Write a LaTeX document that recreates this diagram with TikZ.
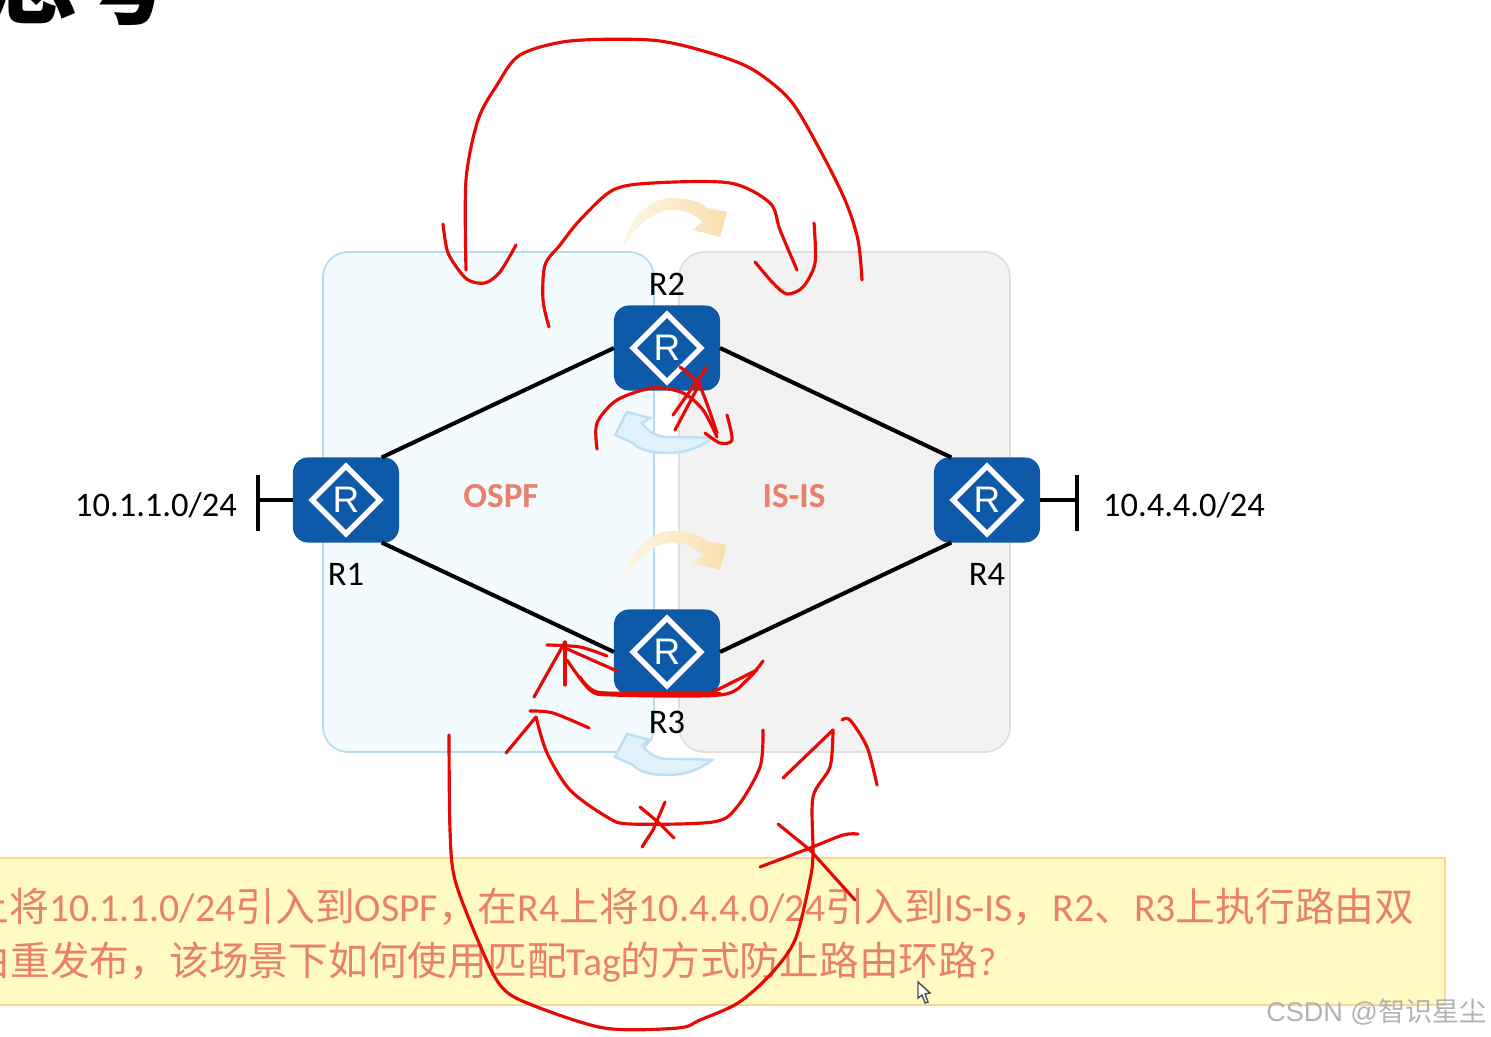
\documentclass[tikz,border=0pt]{standalone}
\usepackage{fontspec}
\setmainfont{Carlito}
\setsansfont{Liberation Sans}
\newfontfamily\cjk{Noto Sans CJK SC}
\usetikzlibrary{shapes.geometric}
\definecolor{routerblue}{HTML}{0F5AA8}
\definecolor{ospfback}{HTML}{F4FBFF}
\definecolor{ospfline}{HTML}{B5DDF0}
\definecolor{isisback}{HTML}{F2F2F2}
\definecolor{isisline}{HTML}{DEDEDE}
\definecolor{salmon}{HTML}{E8806A}
\definecolor{noteback}{HTML}{FFFAC4}
\definecolor{noteline}{HTML}{F7D88E}
\definecolor{redink}{HTML}{E60A05}
\definecolor{swapfade}{HTML}{FDF6E6}
\definecolor{swaptone}{HTML}{F9DFAE}
\definecolor{swapsky}{HTML}{E2F2FB}
\definecolor{swapedge}{HTML}{BCDFF5}
\tikzset{
  ospfzone/.style={fill=ospfback, draw=ospfline, line width=0.5pt, rounded corners=0.25cm},
  isiszone/.style={fill=isisback, draw=isisline, line width=0.5pt, rounded corners=0.25cm},
  router/.style={rectangle, fill=routerblue, rounded corners=0.15cm, minimum width=1.06cm, minimum height=0.85cm, inner sep=0, outer sep=0},
  routermark/.style={diamond, aspect=1, draw=white, line width=1.5pt, minimum width=0.70cm, minimum height=0.70cm, inner sep=0, text=white, font=\sffamily\fontsize{10.5}{12}\selectfont},
  routerlabel/.style={font=\fontsize{9.8}{11}\selectfont, inner sep=0},
  zonelabel/.style={font=\bfseries\fontsize{10}{11}\selectfont, text=salmon, inner sep=0},
  link/.style={line width=1.15pt, draw=black},
  stub/.style={line width=1.15pt, draw=black},
  notetext/.style={font=\fontsize{11.3}{13}\selectfont, text=salmon, inner sep=0},
  ink/.style={line width=0.9pt, draw=redink, line cap=round, line join=round},
  swaporange/.style={left color=swapfade, right color=swaptone, draw=none},
  swapblue/.style={fill=swapsky, draw=swapedge, line width=0.7pt},
  swapup/.pic={\path[swaporange] (622,250) .. controls (630,215) and (650,198) .. (673,198) .. controls (688,198) and (700,202) .. (707,208) -- (727,212) -- (720,237) -- (693,230) -- (702,222) .. controls (695,214) and (685,210) .. (673,210) .. controls (655,210) and (635,225) .. (622,250) -- cycle;},
  swapdown/.pic={\path[swapblue] (712,438) .. controls (697,450) and (680,453) .. (667,453) .. controls (650,453) and (638,449) .. (633,443) -- (615,435) -- (627,412) -- (650,418) -- (642,423) .. controls (648,432) and (658,437) .. (667,437) .. controls (680,437) and (697,437) .. (712,438) -- cycle;},
}
\begin{document}
\begin{tikzpicture}[x=0.01cm,y=-0.01cm]
\useasboundingbox (0,0) rectangle (1491,1037);
\node[font=\cjk\bfseries\fontsize{27}{27}\selectfont, anchor=south west, inner sep=0] (title) at (-18,26) {思考};
\draw[ospfzone] (323,252) rectangle (654,752);
\draw[isiszone] (679,252) rectangle (1010,752);
\pic at (0,0) {swapup};
\pic at (0,333) {swapup};
\pic at (0,0) {swapdown};
\pic at (0,322) {swapdown};
\node[router] (r1) at (346,500) {};
\node[router] (r2) at (667,348) {};
\node[router] (r3) at (667,652) {};
\node[router] (r4) at (987,500) {};
\node[routermark] (m1) at (r1) {R};
\node[routermark] (m2) at (r2) {R};
\node[routermark] (m3) at (r3) {R};
\node[routermark] (m4) at (r4) {R};
\draw[link] (r1.50) -- (r2.west);
\draw[link] (r1.-50) -- (r3.west);
\draw[link] (r4.130) -- (r2.east);
\draw[link] (r4.-130) -- (r3.east);
\coordinate (barl) at (258,500);
\coordinate (barr) at (1077,500);
\draw[stub] (r1.west) -- (barl);
\draw[stub] (258,475) -- (258,531);
\draw[stub] (r4.east) -- (barr);
\draw[stub] (1077,475) -- (1077,531);
\node[routerlabel] (l1) at (346,574) {R1};
\node[routerlabel] (l2) at (667,284) {R2};
\node[routerlabel] (l3) at (667,722) {R3};
\node[routerlabel] (l4) at (987,574) {R4};
\node[routerlabel] (netl) at (156,505) {10.1.1.0/24};
\node[routerlabel] (netr) at (1184,505) {10.4.4.0/24};
\node[zonelabel] (ospf) at (501,496) {OSPF};
\node[zonelabel] (isis) at (794,496) {IS-IS};
\draw[fill=noteback, draw=noteline, line width=0.5pt] (-10,858) rectangle (1445,1005);
\node[notetext, anchor=base east] (line1) at (1415,921) {{\cjk 上将}10.1.1.0/24{\cjk 引入到}OSPF{\cjk ，在}R4{\cjk 上将}10.4.4.0/24{\cjk 引入到}IS-IS{\cjk ，}R2{\cjk 、}R3{\cjk 上执行路由双}};
\node[notetext, anchor=base west] (line2) at (-30,975) {{\cjk 由重发布，该场景下如何使用匹配}Tag{\cjk 的方式防止路由环路}?};
\node[font=\sffamily\fontsize{7.7}{9}\selectfont, text=black!30, anchor=base east, inner sep=0] (mark) at (1487,1021) {CSDN @{\cjk 智识星尘}};
\draw[fill=white, draw=black!70, line width=0.4pt] (918,982) -- (918,998) -- (922,995) -- (925,1003) -- (928,1002) -- (925,994) -- (930,993) -- cycle;
\draw[ink] plot[smooth] coordinates {(443,224) (447,250) (455,265) (468,280) (485,283) (500,272) (516,245)};
\draw[ink] plot[smooth] coordinates {(466,270) (466,180) (478,120) (497,85) (520,55) (570,41) (650,40) (700,50) (750,68) (790,100) (820,150) (845,200) (858,240) (862,280)};
\draw[ink] plot[smooth] coordinates {(549,327) (543,300) (545,265) (560,245) (580,220) (613,190) (653,183) (730,183) (770,203) (780,230) (797,270)};
\draw[ink] plot[smooth] coordinates {(755,262) (773,283) (787,294) (803,287) (815,263) (814,223)};
\draw[ink] plot[smooth] coordinates {(597,449) (597,423) (617,400) (653,388) (683,393) (703,410) (717,437)};
\draw[ink] plot[smooth] coordinates {(705,433) (720,443) (732,440) (727,415)};
\draw[ink] plot[smooth] coordinates {(680,367) (700,387) (717,433)};
\draw[ink] (707,367) -- (673,415);
\draw[ink] (700,383) -- (675,430);
\draw[ink] (617,671) -- (565,648);
\draw[ink] plot[smooth] coordinates {(607,656) (580,647) (547,645)};
\draw[ink] (565,642) -- (534,697);
\draw[ink] (565,642) -- (565,685);
\draw[ink] plot[smooth] coordinates {(567,660) (590,690) (613,695) (720,695) (747,680) (763,661)};
\draw[ink] plot[smooth] coordinates {(580,677) (597,692) (647,693)};
\draw[ink] plot[smooth] coordinates {(713,692) (743,677) (757,670)};
\draw[ink, line width=1.2pt] (600,694) -- (720,694);
\draw[ink] plot[smooth] coordinates {(530,711) (553,713) (589,728)};
\draw[ink] (506,753) -- (536,717);
\draw[ink] plot[smooth] coordinates {(536,717) (547,753) (570,790) (607,817) (630,824) (713,822) (737,807) (760,767) (763,730)};
\draw[ink] (640,807) -- (658,822) -- (674,838);
\draw[ink] (665,802) -- (653,830) -- (642,847);
\draw[ink] (783,778) -- (833,730);
\draw[ink] plot[smooth] coordinates {(833,730) (830,767) (813,797) (813,853) (810,880) (795,940) (770,975) (738,1003) (700,1020) (678,1028) (604,1028) (527,1003) (500,985) (479,943) (455,880) (450,830) (449,735)};
\draw[ink] (778,824) -- (810,850) -- (855,900);
\draw[ink] plot[smooth] coordinates {(858,834) (843,835) (810,848) (760,867)};
\draw[ink] plot[smooth] coordinates {(842,720) (850,720) (867,747) (877,785)};
\end{tikzpicture}
\end{document}
